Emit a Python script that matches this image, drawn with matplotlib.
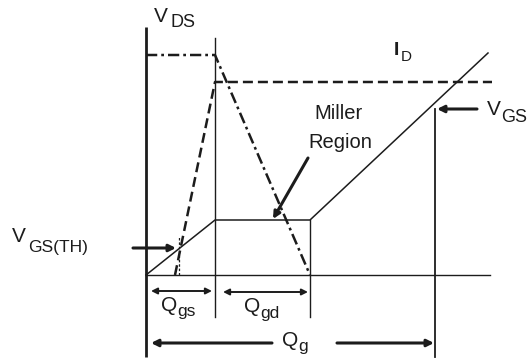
import matplotlib
matplotlib.use("Agg")
import matplotlib.pyplot as plt
from matplotlib.patches import FancyArrowPatch

# ---- data (charge units, voltage/current units; 1 unit = 10 px) ----
q_th, v_th = 3.2, 2.55          # threshold point
q_gs = 6.9                      # end of Qgs
q_gd_end = 16.4                 # end of Miller plateau
q_g = 28.9                      # total gate charge
v_plateau = 5.5

vgs_q = [0.0, q_gs, q_gd_end, 34.2]
vgs_v = [0.0, v_plateau, v_plateau, 22.2]

vds_q = [0.0, q_gs, q_gd_end]
vds_v = [22.0, 22.0, 0.0]

id_q = [2.9, q_gs, 34.6]
id_v = [0.0, 19.3, 19.3]

v_final = 16.6
axis_top, axis_bottom = 24.8, -8.2
base_end = 34.4

INK = "#1c1c1c"
fig = plt.figure(figsize=(5.31, 3.63), dpi=100)
ax = fig.add_axes([0, 0, 1, 1])
ax.set_xlim(-14.6, 38.5)
ax.set_ylim(-8.8, 27.5)
ax.axis("off")

# axes
ax.plot([0, 0], [axis_bottom, axis_top], color=INK, lw=2.0, solid_capstyle="butt")
ax.plot([0, base_end], [0, 0], color=INK, lw=1.0)

# vertical markers
ax.plot([q_gs, q_gs], [-4.2, 23.7], color=INK, lw=1.0)
ax.plot([q_gd_end, q_gd_end], [-4.2, v_plateau], color=INK, lw=1.0)
ax.plot([q_g, q_g], [axis_bottom, v_final], color=INK, lw=1.3)
ax.plot([q_th + 0.1, q_th + 0.1], [0, 3.8], color=INK, lw=0.9, ls=(0, (2, 1.5)))

# waveforms
ax.plot(vgs_q, vgs_v, color=INK, lw=1.1)
ax.plot(vds_q, vds_v, color=INK, lw=1.8, ls=(0, (4.5, 1.6, 1.1, 1.6)))
ax.plot(id_q, id_v, color=INK, lw=1.8, ls=(0, (4, 2)))


def arrow(x0, y0, x1, y1, style="-|>", lw=1.6, ms=9):
    ax.add_patch(FancyArrowPatch((x0, y0), (x1, y1), arrowstyle=style,
                                 mutation_scale=ms, color=INK, lw=lw,
                                 shrinkA=0, shrinkB=0))


# dimension arrows
arrow(0.5, -1.6, q_gs - 0.3, -1.6, "<|-|>", lw=1.4, ms=9)
arrow(q_gs + 0.8, -1.7, q_gd_end - 0.2, -1.7, "<|-|>", lw=1.4, ms=9)
arrow(12.6, -6.8, 0.5, -6.8, "-|>", lw=2.2, ms=10)
arrow(19.1, -6.8, q_g - 0.1, -6.8, "-|>", lw=2.2, ms=10)

# pointer arrows
arrow(-1.3, 2.7, q_th - 0.2, 2.7, "-|>", lw=2.2, ms=10)
arrow(33.1, 16.6, 29.1, 16.6, "-|>", lw=2.2, ms=10)
arrow(16.2, 11.7, 12.7, 5.6, "-|>", lw=2.2, ms=10)

FN = ["Liberation Sans", "DejaVu Sans"]
MAIN, SUB = 15, 13


def label(x, y, main, sub, xs, ys, fs=MAIN, fsub=SUB, bold=False):
    ax.text(x, y, main, fontsize=fs, family=FN, color=INK, va="baseline",
            ha="left", fontweight="bold" if bold else "normal")
    ax.text(xs, ys, sub, fontsize=fsub, family=FN, color=INK, va="baseline",
            ha="left")


label(0.8, 25.3, "V", "DS", 2.5, 24.8)
label(24.8, 22.0, "I", "D", 25.5, 21.4, fs=14, fsub=11, bold=True)
label(34.1, 16.0, "V", "GS", 35.5, 15.3)
label(-13.4, 3.3, "V", "GS(TH)", -11.8, 2.3, fsub=12.5)
label(1.5, -3.6, "Q", "gs", 3.1, -4.1, fsub=12.5)
label(9.8, -3.7, "Q", "gd", 11.4, -4.3, fsub=12.5)
label(13.6, -7.1, "Q", "g", 15.2, -7.6, fsub=12.5)

ax.text(19.2, 15.6, "Miller", fontsize=14.5, family=FN, color=INK,
        ha="center", va="baseline")
ax.text(19.4, 12.7, "Region", fontsize=14.5, family=FN, color=INK,
        ha="center", va="baseline")

fig.savefig("out.png", dpi=100)
